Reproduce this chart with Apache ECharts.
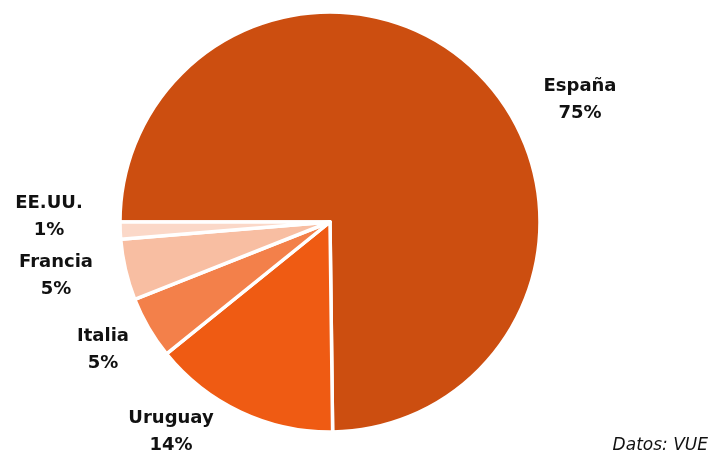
<!DOCTYPE html>
<html>
<head>
<meta charset="utf-8">
<script src="https://cdn.jsdelivr.net/npm/echarts@6/dist/echarts.min.js"></script>
<style>
  html, body { margin: 0; padding: 0; background: #fff; }
  #chart { width: 715px; height: 457px; }
</style>
</head>
<body>
<div id="chart"></div>
<script>
// origen de los visitantes (cuota aproximada, %)
var paises = ['España', 'Uruguay', 'Italia', 'Francia', 'EE.UU.'];
var cuotas = [74.8, 14.4, 4.8, 4.7, 1.3];
var colores = ['#CC4E10', '#EF5B13', '#F3804A', '#F8BEA2', '#FBD8C8'];

// donde va cada etiqueta (centro del bloque de texto)
var posEtiquetas = {
    'España': [580, 100],
    'Uruguay': [171, 432],
    'Italia': [103, 350],
    'Francia': [56, 276],
    'EE.UU.': [49, 217]
};

var myChart = echarts.init(document.getElementById('chart'));
myChart.setOption({
    animation: false,
    color: colores,
    series: [{
        type: 'pie',
        center: [330, 222],
        radius: 210,
        startAngle: 180,
        clockwise: true,
        percentPrecision: 0,
        itemStyle: {
            borderColor: '#fff',
            borderWidth: 3.5
        },
        label: {
            show: true,
            position: 'outside',
            formatter: '{b}\n{d}%',
            fontFamily: 'DejaVu Sans',
            fontWeight: 'bold',
            fontSize: 18,
            lineHeight: 27,
            color: '#111',
            align: 'center',
            overflow: 'none'
        },
        labelLine: { show: false },
        labelLayout: function (params) {
            var p = posEtiquetas[paises[params.dataIndex]];
            return { x: p[0], y: p[1], align: 'center', verticalAlign: 'middle' };
        },
        emphasis: { disabled: true },
        data: paises.map(function (n, i) {
            return { name: n, value: cuotas[i] };
        })
    }],
    graphic: [{
        type: 'text',
        right: 7,
        bottom: 3,
        style: {
            text: 'Datos: VUE',
            font: 'italic 17px "DejaVu Sans"',
            fill: '#111'
        }
    }]
});
</script>
</body>
</html>
